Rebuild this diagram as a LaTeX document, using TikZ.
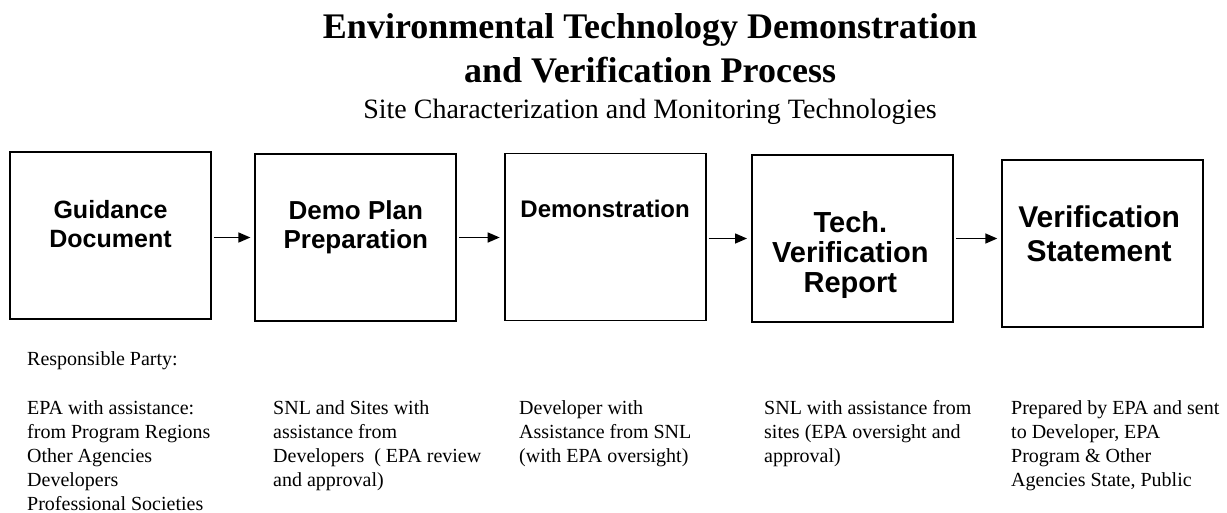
\documentclass[tikz,border=0pt]{standalone}
\usepackage{fontspec}
\setmainfont{Liberation Serif}
\setsansfont{Liberation Sans}
\usetikzlibrary{arrows.meta,positioning}

\begin{document}
\begin{tikzpicture}[x=1pt, y=-1pt,
  stage/.style={draw, line width=1.8pt, minimum width=201pt, minimum height=167pt, inner sep=0pt},
  stagetxt/.style={align=center, inner sep=0pt},
  party/.style={align=left, anchor=north west, inner sep=0pt, font=\fontsize{20}{24}\selectfont},
  arr/.style={-{Triangle[length=12pt, width=10pt]}, line width=1.5pt, shorten <=2pt, shorten >=4pt}
]
\useasboundingbox (0,0) rectangle (1227,512);
% heading
\node[anchor=north, align=center, inner sep=0pt, font=\bfseries\fontsize{36}{44}\selectfont] (title) at (650,13.6) {Environmental Technology Demonstration\\and Verification Process};
\node[inner sep=0pt, font=\fontsize{28}{32}\selectfont, below=15pt of title] (subtitle) {Site Characterization and Monitoring Technologies};
% process boxes
\node[stage] (guide) at (110.5,235.5) {};
\node[stage, right=42.5pt of guide, yshift=-2pt] (plan) {};
\node[stage, right=46.5pt of plan, yshift=0.5pt] (demo) {};
\node[stage, right=44.5pt of demo, yshift=-1.5pt] (report) {};
\node[stage, right=47.5pt of report, yshift=-5pt] (verif) {};
\node[stagetxt, font=\sffamily\bfseries\fontsize{25}{29}\selectfont] (guidetxt) at ([yshift=11pt]guide.center) {Guidance\\Document};
\node[stagetxt, font=\sffamily\bfseries\fontsize{26}{29}\selectfont] (plantxt) at ([yshift=10.5pt]plan.center) {Demo Plan\\Preparation};
\node[stagetxt, font=\sffamily\bfseries\fontsize{24}{29}\selectfont] (demotxt) at ([yshift=27.6pt]demo.center) {Demonstration};
\node[stagetxt, font=\sffamily\bfseries\fontsize{29}{30}\selectfont] (reporttxt) at ([xshift=-2pt,yshift=-16.7pt]report.center) {Tech.\\Verification\\Report};
\node[stagetxt, font=\sffamily\bfseries\fontsize{30}{34}\selectfont] (veriftxt) at ([xshift=-3.5pt,yshift=10.2pt]verif.center) {Verification\\Statement};
\draw[arr] (guide.east |- plan.west) -- (plan.west);
\draw[arr] (plan.east) -- (plan.east -| demo.west);
\draw[arr] (demo.east |- report.west) -- (report.west);
\draw[arr] (report.east) -- (report.east -| verif.west);
% responsible parties
\node[party] (resp) at (27,351.5) {Responsible Party:};
\node[party] (guideparty) at (27,400.5) {EPA with assistance:\\from Program Regions\\Other Agencies\\Developers\\Professional Societies};
\node[party] (planparty) at (273,400.5) {SNL and Sites with\\assistance from\\Developers~ ( EPA review\\and approval)};
\node[party] (demoparty) at (519,400.5) {Developer with\\Assistance from SNL\\(with EPA oversight)};
\node[party] (reportparty) at (764,400.5) {SNL with assistance from\\sites (EPA oversight and\\approval)};
\node[party] (verifparty) at (1011,400.5) {Prepared by EPA and sent\\to Developer, EPA\\Program \& Other\\Agencies State, Public};
\end{tikzpicture}
\end{document}
